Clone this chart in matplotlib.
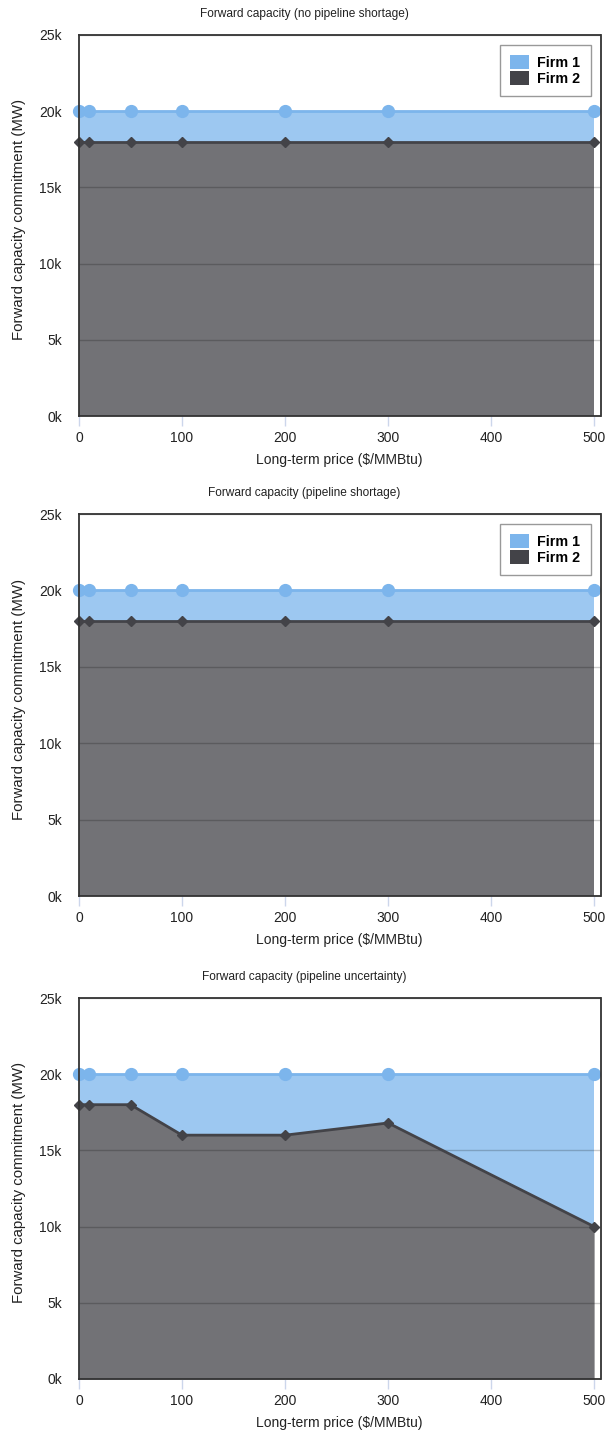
import matplotlib
matplotlib.use("Agg")
import matplotlib.pyplot as plt
from matplotlib.patches import Patch

plt.rcParams['font.family'] = ['Liberation Sans', 'DejaVu Sans']

prices = [0, 10, 50, 100, 200, 300, 500]
titles = [
    "Forward capacity (no pipeline shortage)",
    "Forward capacity (pipeline shortage)",
    "Forward capacity (pipeline uncertainty)",
]
firm1 = [
    [20000, 20000, 20000, 20000, 20000, 20000, 20000],
    [20000, 20000, 20000, 20000, 20000, 20000, 20000],
    [20000, 20000, 20000, 20000, 20000, 20000, 20000],
]
firm2 = [
    [18000, 18000, 18000, 18000, 18000, 18000, 18000],
    [18000, 18000, 18000, 18000, 18000, 18000, 18000],
    [18000, 18000, 18000, 16000, 16000, 16800, 10000],
]
series_names = ["Firm 1", "Firm 2"]
show_legend = [True, True, False]
x_ticks = [0, 100, 200, 300, 400, 500]
y_ticks = [0, 5000, 10000, 15000, 20000, 25000]
y_tick_labels = ["0k", "5k", "10k", "15k", "20k", "25k"]

W, H = 609, 1433
fig = plt.figure(figsize=(W / 100, H / 100), dpi=100)

c1_line, c1_fill = "#7cb5ec", "#9dc8f1"
c2_line, c2_fill = "#434348", "#727276"

# axes pixel boxes: (left, top, right, bottom)
boxes = [(78.5, 35, 600.5, 416), (78.5, 514, 600.5, 896), (78.5, 998, 600.5, 1379)]

for i, (l, t, r, b) in enumerate(boxes):
    ax = fig.add_axes([l / W, (H - b) / H, (r - l) / W, (b - t) / H])
    ax.fill_between(prices, 0, firm1[i], color=c1_fill, lw=0, zorder=1)
    ax.fill_between(prices, 0, firm2[i], color=c2_fill, lw=0, zorder=1.1)
    ax.plot(prices, firm1[i], color=c1_line, lw=2, marker="o", ms=8.5,
            mec=c1_line, mfc=c1_line, zorder=3, clip_on=False)
    ax.plot(prices, firm2[i], color=c2_line, lw=2, marker="D", ms=5.5,
            mec=c2_line, mfc=c2_line, zorder=3.1, clip_on=False)
    ax.set_xlim(-0.5, 506.2)
    ax.set_ylim(0, 25000)
    ax.set_xticks(x_ticks)
    ax.set_yticks(y_ticks)
    ax.set_yticklabels(y_tick_labels)
    ax.set_axisbelow(False)
    ax.yaxis.grid(True, color="#000000", alpha=0.2, lw=1)
    ax.tick_params(axis="x", direction="out", length=7.5, width=1,
                   color="#ccd6eb", labelsize=10, pad=3, labelcolor="#222222")
    ax.tick_params(axis="y", length=0, labelsize=10, pad=12, labelcolor="#222222")
    for s in ax.spines.values():
        s.set_color("#333333")
        s.set_linewidth(1.3)
        s.set_zorder(4)
    ax.set_title(titles[i], fontsize=8.6, color="#222222", pad=13,
                 x=(W / 2 - l) / (r - l))
    ax.set_xlabel("Long-term price ($/MMBtu)", fontsize=10, color="#222222", labelpad=6)
    ax.set_ylabel("Forward capacity commitment (MW)", fontsize=10.8, color="#222222")
    ax.yaxis.set_label_coords(-0.1, 0.515)
    if show_legend[i]:
        handles = [Patch(facecolor=c1_line, edgecolor="none"),
                   Patch(facecolor=c2_line, edgecolor="none")]
        leg = ax.legend(handles, series_names, loc="upper right",
                        bbox_to_anchor=(1 - 10 / 522, 1 - 10 / 381),
                        borderaxespad=0, fancybox=False, framealpha=1,
                        edgecolor="#999999", handlelength=1.3, handleheight=1.1,
                        labelspacing=0.1, handletextpad=0.6, borderpad=0.7,
                        prop={"weight": "bold", "size": 10.3})
        leg.get_frame().set_linewidth(1)
        leg.set_zorder(5)

fig.savefig("out.png", dpi=100)
